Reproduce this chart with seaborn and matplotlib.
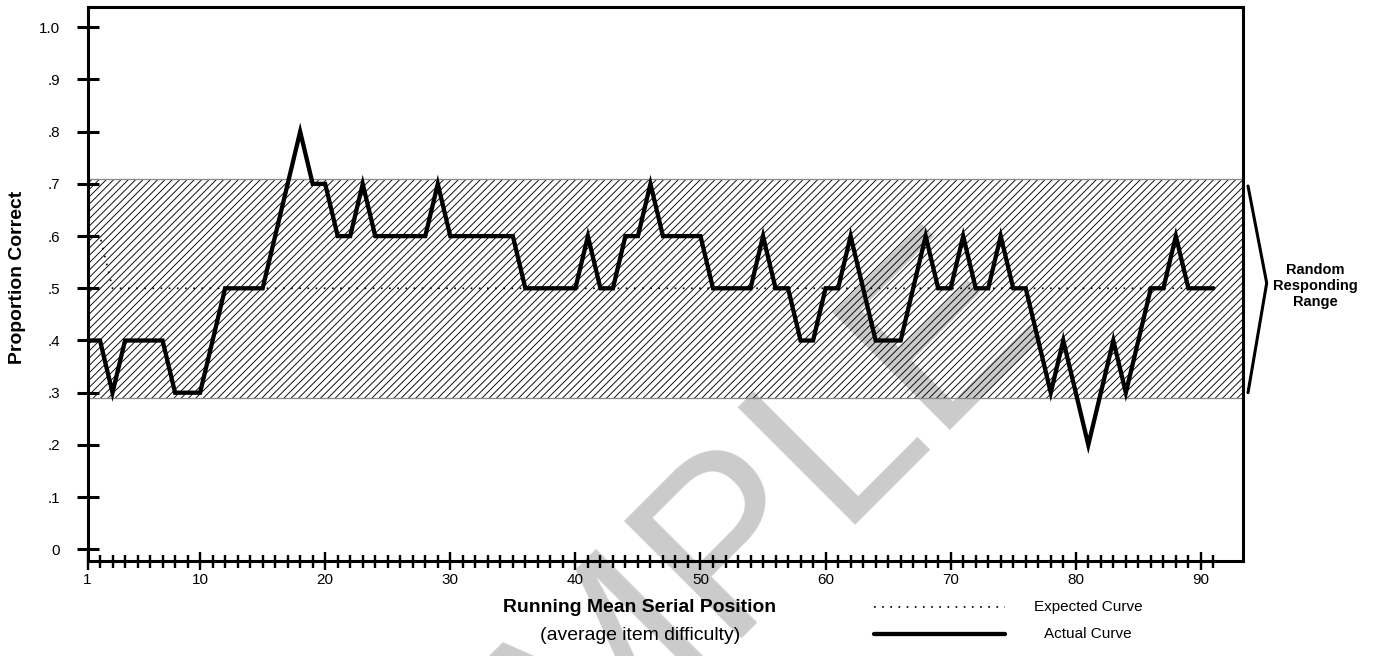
import matplotlib
matplotlib.use("Agg")
import matplotlib.pyplot as plt
import matplotlib.transforms as mtransforms
from matplotlib.lines import Line2D
import seaborn as sns

# ---------------- data ----------------
positions = list(range(1, 92))
actual = [
    0.4, 0.4, 0.3, 0.4, 0.4, 0.4, 0.4, 0.3, 0.3, 0.3,   # 1-10
    0.4, 0.5, 0.5, 0.5, 0.5, 0.6, 0.7, 0.8, 0.7, 0.7,   # 11-20
    0.6, 0.6, 0.7, 0.6, 0.6, 0.6, 0.6, 0.6, 0.7, 0.6,   # 21-30
    0.6, 0.6, 0.6, 0.6, 0.6, 0.5, 0.5, 0.5, 0.5, 0.5,   # 31-40
    0.6, 0.5, 0.5, 0.6, 0.6, 0.7, 0.6, 0.6, 0.6, 0.6,   # 41-50
    0.5, 0.5, 0.5, 0.5, 0.6, 0.5, 0.5, 0.4, 0.4, 0.5,   # 51-60
    0.5, 0.6, 0.5, 0.4, 0.4, 0.4, 0.5, 0.6, 0.5, 0.5,   # 61-70
    0.6, 0.5, 0.5, 0.6, 0.5, 0.5, 0.4, 0.3, 0.4, 0.3,   # 71-80
    0.2, 0.3, 0.4, 0.3, 0.4, 0.5, 0.5, 0.6, 0.5, 0.5,   # 81-90
    0.5,                                                # 91
]
expected_x = [1, 2, 3, 91]
expected_y = [0.6, 0.6, 0.5, 0.5]
range_lo, range_hi = 0.29, 0.71

y_ticks = [0.0, 0.1, 0.2, 0.3, 0.4, 0.5, 0.6, 0.7, 0.8, 0.9, 1.0]
y_tick_labels = ["0", ".1", ".2", ".3", ".4", ".5", ".6", ".7", ".8", ".9", "1.0"]
x_major = [1, 10, 20, 30, 40, 50, 60, 70, 80, 90]
x_major_labels = ["1", "10", "20", "30", "40", "50", "60", "70", "80", "90"]
x_minor = list(range(1, 92))

# ---------------- style ----------------
DPI = 88
def pt(px):
    return px * 72.0 / DPI

sns.set_theme(style="white")
plt.rcParams["font.family"] = ["Liberation Sans", "DejaVu Sans"]
plt.rcParams["hatch.linewidth"] = pt(0.9)
plt.rcParams["text.color"] = "black"

W, H = 1382, 656
fig = plt.figure(figsize=(W / DPI, H / DPI), dpi=DPI)
fig.patch.set_facecolor("white")

# watermark (behind everything)
fig.text(356 / W, 1 - 1014 / H, "SAMPLE", rotation=45, rotation_mode="anchor",
         ha="left", va="baseline", fontsize=pt(241), color="#cbcbcb", zorder=-5)

ax_l, ax_r, ax_t, ax_b = 87.5, 1243.3, 7, 561
ax = fig.add_axes([ax_l / W, 1 - ax_b / H, (ax_r - ax_l) / W, (ax_b - ax_t) / H])
ax.set_facecolor("none")

# random responding range (hatched band)
ax.axhspan(range_lo, range_hi, facecolor="none", edgecolor="black",
           hatch="////", linewidth=0, zorder=1)
ax.axhline(range_lo, color="#8a8a8a", lw=pt(1.3), zorder=1.5)
ax.axhline(range_hi, color="#8a8a8a", lw=pt(1.3), zorder=1.5)

# curves
sns.lineplot(x=expected_x, y=expected_y, ax=ax, color="black", lw=pt(1.7),
             linestyle=(0, (1, 3.8)), errorbar=None, zorder=3)
sns.lineplot(x=positions, y=actual, ax=ax, color="black", lw=pt(4.3),
             errorbar=None, zorder=4, solid_joinstyle="miter")

ax.set_xlim(1, 1 + (ax_r - ax_l) / 12.51)
ax.set_ylim(-(ax_b - 549.3) / 522, (549.3 - ax_t) / 522)

for s in ax.spines.values():
    s.set_visible(True)
    s.set_linewidth(pt(3.05))
    s.set_color("black")

ax.set_yticks(y_ticks, y_tick_labels)
ax.tick_params(axis="y", direction="inout", length=pt(21.7), width=pt(3.05),
               pad=pt(16.7), labelsize=pt(15.3), colors="black", left=True)
ax.set_xticks(x_major, x_major_labels)
ax.set_xticks(x_minor, minor=True)
ax.tick_params(axis="x", which="major", direction="inout", length=pt(18),
               width=pt(2.4), pad=pt(2.5), labelsize=pt(15.3), colors="black",
               bottom=True)
ax.tick_params(axis="x", which="minor", direction="inout", length=pt(13),
               width=pt(2.4), colors="black", bottom=True)
ax.set_xlabel("")
ax.set_ylabel("")
ax.grid(False)

# bracket for random responding range
trans = mtransforms.blended_transform_factory(ax.transAxes, ax.transData)
bx0 = 1 + (1248 - ax_r) / (ax_r - ax_l)
bx1 = 1 + (1266.7 - ax_r) / (ax_r - ax_l)
ax.plot([bx0, bx1, bx0], [range_hi - 0.014, (range_lo + range_hi) / 2 + 0.01, range_lo + 0.01],
        transform=trans, color="black", lw=pt(3.05), clip_on=False,
        solid_joinstyle="miter")
fig.text(1315 / W, 1 - 286 / H, "Random\nResponding\nRange", ha="center", va="center",
         fontsize=pt(14.6), fontweight="bold", linespacing=1.15)

# axis titles
fig.text(18 / W, 1 - 277 / H, "Proportion Correct", rotation=90, ha="center",
         va="center", fontsize=pt(19.4), fontweight="bold")
fig.text(640 / W, 1 - 608 / H, "Running Mean Serial Position", ha="center",
         va="center", fontsize=pt(19.4), fontweight="bold")
fig.text(640 / W, 1 - 635 / H, "(average item difficulty)", ha="center",
         va="center", fontsize=pt(19.4))

# legend
fig.add_artist(Line2D([874 / W, 1005 / W], [1 - 607 / H] * 2, transform=fig.transFigure,
                      color="black", lw=pt(1.7), linestyle=(0, (1, 3.8))))
fig.add_artist(Line2D([874 / W, 1005 / W], [1 - 634 / H] * 2, transform=fig.transFigure,
                      color="black", lw=pt(4.3)))
fig.text(1088 / W, 1 - 607 / H, "Expected Curve", ha="center", va="center", fontsize=pt(15.3))
fig.text(1088 / W, 1 - 634 / H, "Actual Curve", ha="center", va="center", fontsize=pt(15.3))

fig.savefig("out.png", dpi=DPI, facecolor="white")
